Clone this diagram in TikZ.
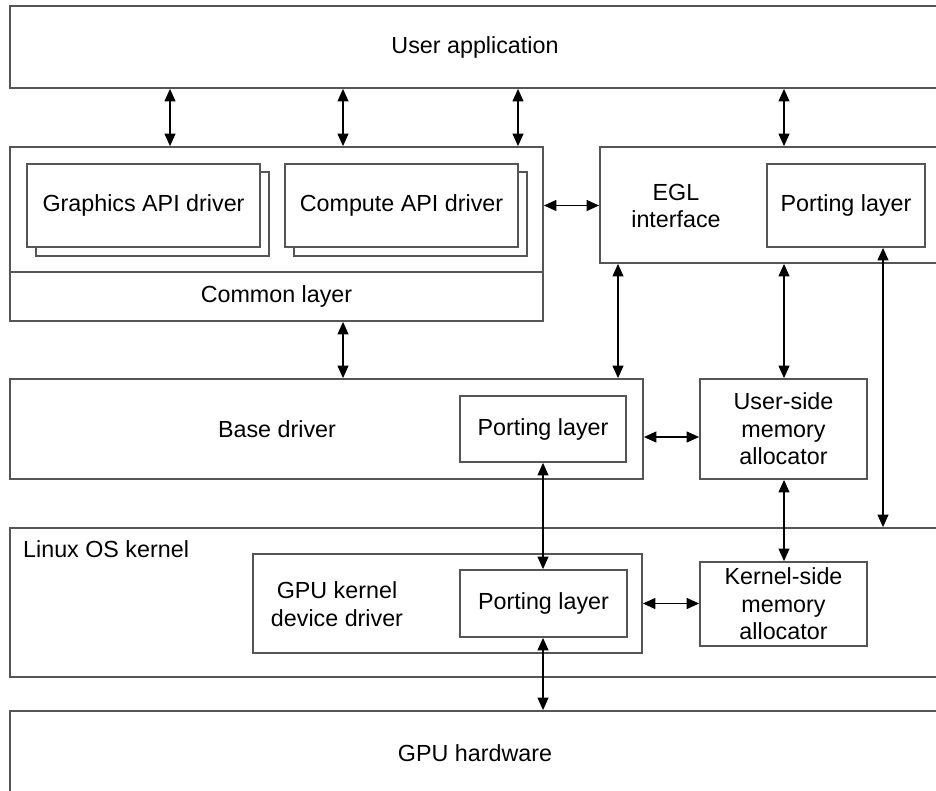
\documentclass[tikz,border=0pt]{standalone}
\usepackage{fontspec}
\setmainfont{Liberation Sans}
\usetikzlibrary{arrows.meta}
\definecolor{edge}{RGB}{85,85,85}
\begin{document}
\begin{tikzpicture}[x=1pt,y=-1pt,
  txt/.style={inner sep=0pt, align=center, font=\fontsize{23.3}{27.5}\selectfont},
  box/.style={txt, draw=edge, line width=1.4pt, fill=white},
  link/.style={{Triangle[length=12.5pt,width=11pt]}-{Triangle[length=12.5pt,width=11pt]},
               line width=1.2pt, black, shorten <=0.2pt, shorten >=0.2pt},
]
\useasboundingbox (0,0) rectangle (936,791);

% column / row positions of the vertical and horizontal links
\coordinate (c1) at (170,0);
\coordinate (c2) at (343,0);
\coordinate (c3) at (518,0);
\coordinate (c4) at (784,0);
\coordinate (c5) at (618,0);
\coordinate (c6) at (883,0);
\coordinate (r1) at (0,437);

% top level
\node[box, minimum width=930pt, minimum height=82pt] (ua) at (475,47) {User application};

% API drivers with common layer
\node[box, minimum width=533pt, minimum height=174pt] (api) at (276.5,234) {};
\node[box, minimum width=533pt, minimum height=49pt] (common) at (276.5,296.5) {Common layer};
\node[box, minimum width=233pt, minimum height=84pt] (gfxback) at (152.5,214) {};
\node[box, minimum width=233pt, minimum height=83pt] (gfx) at (143.5,205.5) {Graphics API driver};
\node[box, minimum width=233pt, minimum height=84pt] (cmpback) at (410.5,214) {};
\node[box, minimum width=233pt, minimum height=83pt] (cmp) at (401.5,205.5) {Compute API driver};

% EGL
\node[box, minimum width=340pt, minimum height=116pt] (egl) at (770,205) {};
\node[txt] (egllabel) at (676,206) {EGL\\interface};
\node[box, minimum width=158pt, minimum height=83pt] (eglport) at (846,205.5) {Porting layer};

% base driver
\node[box, minimum width=633pt, minimum height=100pt] (base) at (326.5,429) {};
\node[txt] (baselabel) at (277,429) {Base driver};
\node[box, minimum width=166pt, minimum height=66pt] (baseport) at (543,429) {Porting layer};
\node[box, minimum width=167pt, minimum height=100pt] (usermem) at (783.5,429) {User-side\\memory\\allocator};

% kernel
\node[box, minimum width=930pt, minimum height=149pt] (kernel) at (475,602.5) {};
\node[txt, anchor=west] (kernellabel) at (23,549) {Linux OS kernel};
\node[box, minimum width=389pt, minimum height=99pt] (gpudrv) at (447.5,603.5) {};
\node[txt] (gpudrvlabel) at (337,604) {GPU kernel\\device driver};
\node[box, minimum width=167pt, minimum height=67pt] (gpuport) at (543.5,603.5) {Porting layer};
\node[box, minimum width=167pt, minimum height=84pt] (kernmem) at (783.5,604) {Kernel-side\\memory\\allocator};

% hardware
\node[box, minimum width=930pt, minimum height=84pt] (gpuhw) at (475,753) {GPU hardware};

% links
\draw[link] (ua.south -| c1) -- (api.north -| c1);
\draw[link] (ua.south -| c2) -- (api.north -| c2);
\draw[link] (ua.south -| c3) -- (api.north -| c3);
\draw[link] (ua.south -| c4) -- (egl.north -| c4);
\draw[link] (api.east |- eglport) -- (egl.west |- eglport);
\draw[link] (common.south -| c2) -- (base.north -| c2);
\draw[link] (egl.south -| c5) -- (base.north -| c5);
\draw[link] (egl.south -| c4) -- (usermem.north -| c4);
\draw[link] (eglport.south -| c6) -- (kernel.north -| c6);
\draw[link] (base.east |- r1) -- (usermem.west |- r1);
\draw[link] (baseport.south) -- (gpuport.north -| baseport.south);
\draw[link] (usermem.south -| c4) -- (kernmem.north -| c4);
\draw[link] (gpudrv.east |- gpuport) -- (kernmem.west |- gpuport);
\draw[link] (gpuport.south -| baseport.south) -- (gpuhw.north -| baseport.south);
\end{tikzpicture}
\end{document}
